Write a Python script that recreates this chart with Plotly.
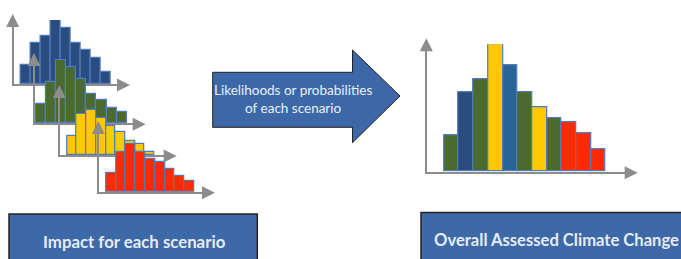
import plotly.graph_objects as go

W, H = 681, 259

# ---------------- data ----------------
blue_vals = [19, 41, 48, 67, 56, 41, 34, 26, 12]
green_vals = [19, 41, 63, 56, 44, 29, 23, 15, 11]
yellow_vals = [19, 41, 45, 37, 29, 23, 14, 11, 3]
red_vals = [19, 40, 48, 40, 33, 30, 23, 16, 11]
overall_vals = [36, 79, 92, 127, 106, 79, 64, 53, 49, 38, 22]
overall_scen = ["green", "blue", "green", "yellow", "teal", "green",
                "yellow", "green", "red", "red", "red"]

arrow_text = "Likelihoods or probabilities<br>of each scenario"
left_label = "Impact for each scenario"
right_label = "Overall Assessed Climate Change"

# ---------------- styles ----------------
COL = {"blue": "#2A4C80", "green": "#4A6A30", "yellow": "#FFC800",
       "red": "#FF2A00", "teal": "#2A6496"}
EDGE = "#4F7CBA"
AXC = "#8C8C8C"
BOXC = "#3D69A8"
FONT = "Lato"

# panel geometry in pixels: axis_x, top_y, base_y, end_x, first_bar_left, bar_w
panels = [
    ("blue", blue_vals, 13.7, 14, 84, 130, 21, 10.0),
    ("green", green_vals, 35.0, 53, 123.3, 145.7, 35.8, 10.1),
    ("yellow", yellow_vals, 60.3, 85, 155, 176.7, 67, 9.7),
    ("red", red_vals, 99.3, 121, 191.7, 215, 106, 9.8),
    ("overall", overall_vals, 427.3, 38.3, 171.7, 637.7, 444, 14.7),
]

fig = go.Figure()
layout = dict(width=W, height=H, margin=dict(l=0, r=0, t=0, b=0, pad=0),
              paper_bgcolor="white", plot_bgcolor="rgba(0,0,0,0)",
              showlegend=False, bargap=0, annotations=[], shapes=[])

def px(x):
    return x / W

def py(y):
    return 1 - y / H

# shapes: arrow and bottom boxes
ax0, ax1, bt, bb, ht, hb, tipx, tipy = 212.7, 352.5, 72.3, 127.3, 50, 142.7, 400, 96
path = (f"M {px(ax0)},{py(bt)} L {px(ax1)},{py(bt)} L {px(ax1)},{py(ht)} "
        f"L {px(tipx)},{py(tipy)} L {px(ax1)},{py(hb)} L {px(ax1)},{py(bb)} "
        f"L {px(ax0)},{py(bb)} Z")
layout["shapes"].append(dict(type="path", xref="paper", yref="paper", path=path,
                             fillcolor="#3C68A8", line=dict(color="#222222", width=1)))
layout["shapes"].append(dict(type="rect", xref="paper", yref="paper",
                             x0=px(9), x1=px(257.3), y0=-0.1, y1=py(214),
                             fillcolor=BOXC, line=dict(color="#222222", width=1.5)))
layout["shapes"].append(dict(type="rect", xref="paper", yref="paper",
                             x0=px(421), x1=1.1, y0=-0.1, y1=py(212.5),
                             fillcolor=BOXC, line=dict(color="#222222", width=1.5)))

for i, (name, vals, axx, top, base, endx, left0, bw) in enumerate(panels, start=1):
    xa = "x" if i == 1 else f"x{i}"
    ya = "y" if i == 1 else f"y{i}"
    c0 = left0 + bw / 2
    if name == "overall":
        colors = [COL[s] for s in overall_scen]
    else:
        colors = [COL[name]] * len(vals)
    fig.add_trace(go.Bar(x=list(range(len(vals))), y=vals, xaxis=xa, yaxis=ya,
                         width=1.0,
                         marker=dict(color=colors, line=dict(color=EDGE, width=1.2)),
                         hoverinfo="skip"))
    common = dict(showgrid=False, zeroline=False, showticklabels=False, ticks="",
                  showline=True, linecolor=AXC, linewidth=2, fixedrange=True)
    layout["xaxis" if i == 1 else f"xaxis{i}"] = dict(
        domain=[px(axx), px(endx - 6)],
        range=[(axx - c0) / bw, (endx - 6 - c0) / bw],
        anchor=ya, **common)
    layout["yaxis" if i == 1 else f"yaxis{i}"] = dict(
        domain=[py(base), py(top + 6)],
        range=[0, base - top - 6],
        anchor=xa, **common)
    # arrowheads
    arrow = dict(xref="paper", yref="paper", text="", showarrow=True,
                 arrowhead=2, arrowsize=1.3, arrowwidth=2, arrowcolor=AXC,
                 standoff=0, startstandoff=0)
    layout["annotations"].append(dict(x=px(axx - 1), y=py(top), ax=0, ay=9, **arrow))
    layout["annotations"].append(dict(x=px(endx), y=py(base + 1), ax=-9, ay=0, **arrow))

txt = dict(xref="paper", yref="paper", showarrow=False,
           xanchor="center", yanchor="middle")
layout["annotations"].append(dict(x=px(293), y=py(98.5), text=arrow_text,
                                  font=dict(family=FONT, size=13.5, color="#EAF0F8"),
                                  **txt))
layout["annotations"].append(dict(x=px(134.3), y=py(241), text=f"<b>{left_label}</b>",
                                  font=dict(family=FONT, size=16.8, color="#E6ECF5"),
                                  **txt))
layout["annotations"].append(dict(x=px(556.5), y=py(240), text=f"<b>{right_label}</b>",
                                  font=dict(family=FONT, size=16.6, color="#E6ECF5"),
                                  **txt))

fig.update_layout(**layout)
fig.write_html("out.html", config={"displayModeBar": False},
               post_script="document.body.style.margin='0';document.body.style.padding='0';")
